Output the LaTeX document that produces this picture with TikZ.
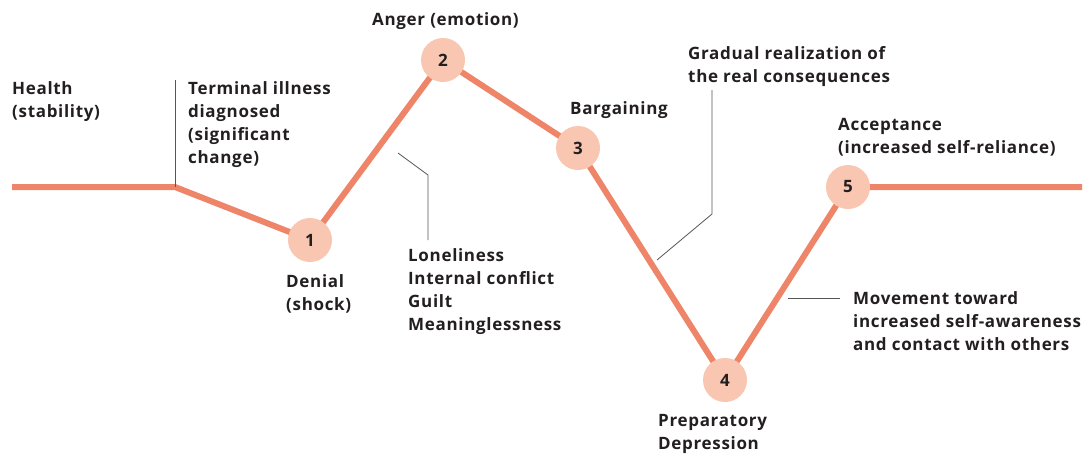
\documentclass[tikz,border=0pt]{standalone}
\usepackage{fontspec}
\setmainfont{Open Sans}[LetterSpace=4]
\usetikzlibrary{positioning}
\definecolor{stageRed}{HTML}{EE8468}
\definecolor{stageFill}{HTML}{F9C6B1}
\definecolor{leaderGray}{HTML}{555555}
\definecolor{textDark}{HTML}{231F20}
\begin{document}
\begin{tikzpicture}[x=1pt, y=-1pt,
    stageLine/.style={draw=stageRed, line width=6pt, line join=round},
    stageDot/.style={circle, fill=stageFill, minimum size=44pt, inner sep=0pt, text=textDark, font=\fontsize{17}{19}\selectfont\bfseries},
    stageText/.style={align=left, anchor=north west, inner sep=0pt, text=textDark, font=\fontsize{17}{23}\selectfont\bfseries},
    leader/.style={draw=leaderGray, line width=0.8pt},
]
\useasboundingbox (0,0) rectangle (1086,453);
% the curve of the stages
\coordinate (start) at (12,187);
\coordinate (bend) at (175,187);
\coordinate (c1) at (310,240);
\coordinate (c2) at (443,60);
\coordinate (c3) at (578,148);
\coordinate (c4) at (725,380);
\coordinate (c5) at (848,187);
\coordinate (stop) at (1082,187);
\draw[stageLine] (start) -- (bend) -- (c1) -- (c2) -- (c3) -- (c4) -- (c5) -- (stop);
\node[stageDot] (s1) at (c1) {1};
\node[stageDot] (s2) at (c2) {2};
\node[stageDot] (s3) at (c3) {3};
\node[stageDot] (s4) at (c4) {4};
\node[stageDot] (s5) at (c5) {5};
% labels
\node[stageText] (health) at (12,81) {Health\\(stability)};
\node[stageText] (terminal) at (188,81) {Terminal illness\\diagnosed\\(significant\\change)};
\node[stageText] (anger) at (372,12) {Anger (emotion)};
\node[stageText] (bargain) at (570,101) {Bargaining};
\node[stageText] (gradual) at (688,46) {Gradual realization of\\the real consequences};
\node[stageText] (accept) at (838,118) {Acceptance\\(increased self-reliance)};
\node[stageText] (denial) at (286,274) {Denial\\(shock)};
\node[stageText] (lonely) at (408,248) {Loneliness\\Internal conflict\\Guilt\\Meaninglessness};
\node[stageText] (prep) at (658,414) {Preparatory\\Depression};
\node[stageText] (move) at (853,291) {Movement toward\\increased self-awareness\\and contact with others};
% leader lines
\coordinate (l1a) at (175,80);
\coordinate (l2a) at (398,153);
\coordinate (l2b) at (428,175);
\coordinate (l2c) at (428,240);
\coordinate (l3a) at (657,260);
\coordinate (l3b) at (712,214);
\coordinate (l3c) at (712,90);
\coordinate (l4a) at (788,298);
\coordinate (l4b) at (840,298);
\draw[leader] (l1a) -- (bend);
\draw[leader] (l2a) -- (l2b) -- (l2c);
\draw[leader] (l3a) -- (l3b) -- (l3c);
\draw[leader] (l4a) -- (l4b);
\end{tikzpicture}
\end{document}
